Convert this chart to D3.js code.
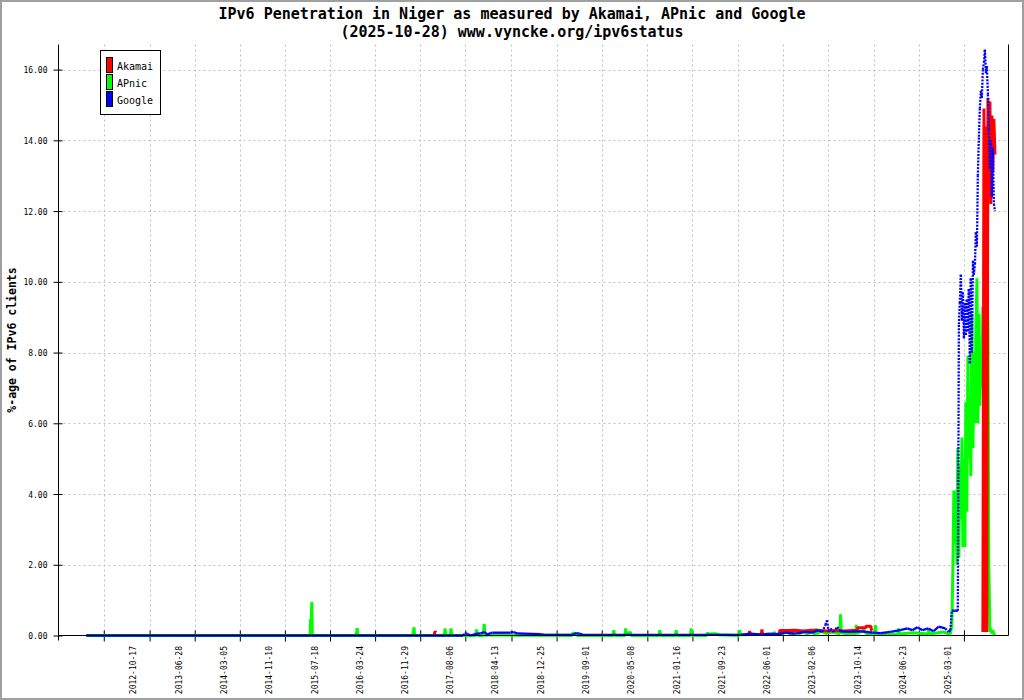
<!DOCTYPE html>
<html><head><meta charset="utf-8">
<script src="https://cdn.jsdelivr.net/npm/d3@7"></script>
<style>body{margin:0;background:#fff}svg{display:block}text{font-family:"DejaVu Sans Mono",monospace}</style>
</head><body><svg id="c" width="1024" height="700"></svg>
<script>
const titleLines = ["IPv6 Penetration in Niger as measured by Akamai, APnic and Google", "(2025-10-28) www.vyncke.org/ipv6status"];
const yTitle = "%-age of IPv6 clients";
const seriesNames = ["Akamai", "APnic", "Google"];
const seriesColors = ["#ff0000", "#00ff00", "#0000ff"];
const yTicks = [0, 2, 4, 6, 8, 10, 12, 14, 16];
const labelDates = ["2012-10-17","2013-06-28","2014-03-05","2014-11-10","2015-07-18","2016-03-24","2016-11-29","2017-08-06","2018-04-13","2018-12-25","2019-09-01","2020-05-08","2021-01-16","2021-09-23","2022-06-01","2023-02-06","2023-10-14","2024-06-23","2025-03-01"];

// Final months (shared dates)
const endDates = ["2025-02-23","2025-03-03","2025-03-09","2025-03-14","2025-03-20","2025-03-25","2025-03-31","2025-04-05","2025-04-11","2025-04-16","2025-04-22","2025-04-28","2025-05-03","2025-05-09","2025-05-14","2025-05-20","2025-05-25","2025-05-31","2025-06-05","2025-06-11","2025-06-16","2025-06-22","2025-06-28","2025-07-03","2025-07-09","2025-07-14","2025-07-20","2025-07-25","2025-07-31","2025-08-05","2025-08-11","2025-08-16","2025-08-22","2025-08-28","2025-09-02","2025-09-08","2025-09-13","2025-09-19","2025-09-24","2025-09-30","2025-10-05","2025-10-11","2025-10-16","2025-10-22","2025-10-28"];
const apnicEnd = [0.05,0.3,2.0,4.1,2.6,4.1,2.0,5.3,2.2,4.8,3.3,5.6,2.5,5.0,2.5,6.6,3.5,7.9,5.0,6.6,4.5,9.1,5.3,8.0,6.0,8.5,10.1,6.0,9.1,6.5,8.0,7.0,9.3,4.5,8.0,10.3,5.0,8.9,2.0,0.1,0.2,0.05,0.15,0.05,0.0];
const googleEnd = [0.15,0.7,0.7,0.7,0.7,0.7,0.7,0.7,8.8,9.4,10.2,8.9,9.7,8.4,9.4,8.5,9.5,8.6,9.8,7.7,10.1,8.0,10.6,10.2,10.5,11.4,11.0,13.0,14.1,14.9,15.4,15.2,16.0,16.2,16.57,15.9,16.1,15.3,14.3,13.2,14.0,12.4,13.8,12.2,12.0];
const akamaiEnd = [null,null,null,null,null,null,null,null,null,null,null,null,null,null,null,null,null,null,null,null,null,null,null,null,null,null,null,null,null,null,null,null,0.1,14.9,0.1,14.4,0.1,15.2,13.6,15.1,12.2,14.7,13.1,14.6,13.6];

// Earlier history [date, value]
const apnicEarly = [["2012-01-13",0],
 ["2015-06-07",0],["2015-06-09",0.46],["2015-06-12",0.05],["2015-06-16",0.95],["2015-06-19",0],
 ["2016-02-15",0],["2016-02-19",0.1],["2016-02-23",0.21],["2016-02-26",0],
 ["2016-12-26",0],["2016-12-30",0.12],["2017-01-03",0.23],["2017-01-06",0],
 ["2017-06-20",0],["2017-06-23",0.2],["2017-06-28",0.05],["2017-07-02",0],
 ["2017-07-23",0],["2017-07-26",0.2],["2017-07-31",0.06],["2017-08-03",0],
 ["2017-12-10",0],["2017-12-15",0.17],["2017-12-20",0.05],["2017-12-24",0],
 ["2018-01-21",0],["2018-01-24",0.15],["2018-01-27",0.33],["2018-01-30",0],
 ["2018-03-01",0.02],["2018-08-01",0.01],
 ["2019-05-28",0],["2019-06-02",0.07],["2019-06-20",0.05],["2019-06-28",0],
 ["2020-01-10",0],["2020-01-15",0.15],["2020-01-19",0],
 ["2020-03-17",0],["2020-03-21",0.2],["2020-03-25",0.03],["2020-04-16",0.1],["2020-04-20",0],
 ["2020-09-22",0],["2020-09-26",0.15],["2020-09-30",0],
 ["2020-12-22",0],["2020-12-26",0.15],["2020-12-30",0],
 ["2021-03-15",0],["2021-03-19",0.2],["2021-03-23",0],
 ["2021-06-13",0],["2021-06-17",0.08],["2021-06-21",0.04],["2021-08-01",0.05],["2021-08-20",0.02],
 ["2021-12-09",0],["2021-12-13",0.15],["2021-12-17",0.02],
 ["2022-03-01",0.03],["2022-06-19",0.03],["2022-06-23",0.1],["2022-06-27",0.03],
 ["2022-08-01",0.05],["2022-09-10",0.12],["2022-09-15",0.04],["2022-10-20",0.1],["2022-11-10",0.05],["2022-12-01",0.12],["2022-12-20",0.04],
 ["2023-01-15",0.1],["2023-02-06",0.03],["2023-02-10",0.2],["2023-02-14",0.05],["2023-03-10",0.12],["2023-04-05",0.06],["2023-05-10",0.1],
 ["2023-06-21",0.05],["2023-06-25",0.6],["2023-06-29",0.08],["2023-08-01",0.05],["2023-09-16",0.04],["2023-09-20",0.3],["2023-09-24",0.05],
 ["2023-11-01",0.15],["2023-11-15",0.05],["2023-12-31",0.04],["2024-01-04",0.29],["2024-01-08",0.04],["2024-03-01",0.06],
 ["2024-05-08",0.03],["2024-05-12",0.2],["2024-05-16",0.04],["2024-08-01",0.08],["2024-10-22",0.04],["2024-10-26",0.17],["2024-10-30",0.04],
 ["2025-01-15",0.1],["2025-02-12",0.05]];

const googleEarly = [["2012-01-13",0],["2017-10-01",0],["2017-10-10",0.06],["2017-10-25",0.05],["2017-11-11",0.0],["2017-12-18",0.05],
 ["2018-01-06",0.06],["2018-01-28",0.1],["2018-02-14",0.02],["2018-03-02",0.07],["2018-03-13",0.08],["2018-06-21",0.08],["2018-07-08",0.1],
 ["2018-07-28",0.06],["2018-12-04",0.04],["2019-01-01",0.02],["2019-06-05",0.02],["2019-06-22",0.07],["2019-07-08",0.05],["2019-07-30",0.02],
 ["2021-12-17",0.02],["2022-02-10",0.05],["2022-04-07",0.03],["2022-06-01",0.05],["2022-07-15",0.04],["2022-08-23",0.08],["2022-10-18",0.05],
 ["2022-12-12",0.1],["2023-01-20",0.08],["2023-02-22",0.15],["2023-03-16",0.1],["2023-04-02",0.3],["2023-04-11",0.43],["2023-04-19",0.12],
 ["2023-04-30",0.2],["2023-05-16",0.1],["2023-06-07",0.24],["2023-06-24",0.12],["2023-08-19",0.1],["2023-10-13",0.12],["2023-12-19",0.08],
 ["2024-02-01",0.07],["2024-03-27",0.1],["2024-05-22",0.15],["2024-06-29",0.2],["2024-07-27",0.15],["2024-08-24",0.23],["2024-09-21",0.15],
 ["2024-10-24",0.2],["2024-11-21",0.12],["2024-12-20",0.25],["2025-01-26",0.2],["2025-02-12",0.1]];

const akamaiEarly = [["2017-04-24",0],["2017-04-29",0.12],["2017-05-04",0.08],["2017-05-06",null],
 ["2022-02-02",0],["2022-02-06",0.13],["2022-02-10",0.02],["2022-02-12",null],
 ["2022-04-11",0],["2022-04-15",0.17],["2022-04-19",0.03],["2022-04-21",null],
 ["2022-07-19",0],["2022-07-23",0.14],["2022-09-01",0.14],["2022-10-15",0.15],["2022-12-01",0.13],["2023-01-15",0.15],["2023-03-01",0.14],
 ["2023-04-15",0.13],["2023-06-01",0.14],["2023-07-15",0.13],["2023-09-01",0.14],["2023-09-25",0.14],["2023-09-28",0.22],["2023-11-10",0.22],
 ["2023-11-14",0.26],["2023-12-10",0.26],["2023-12-14",0.14],["2023-12-17",0.14],["2023-12-20",null]];

const parse = d3.utcParse("%Y-%m-%d");
const build = (early, endVals) => early.map(d => [parse(d[0]), d[1]]).concat(endDates.map((d, i) => [parse(d), endVals[i]]));
const akamai = build(akamaiEarly, akamaiEnd);
const apnic = build(apnicEarly, apnicEnd);
const google = build(googleEarly, googleEnd);

const svg = d3.select("#c");
const L = 58.5, R = 1008.5, T = 44.5, B = 635.5;
const x = d3.scaleUtc().domain([parse("2011-08-12"), parse("2026-01-11")]).range([L, R]);
const y = d3.scaleLinear().domain([0, 16.71]).range([B, T]);
const labelD = labelDates.map(parse);
const gridD = labelD.concat([d3.utcDay.offset(labelD[labelD.length - 1], 250)]).map(d => d3.utcDay.offset(d, -181));

svg.append("rect").attr("x", 0).attr("y", 0).attr("width", 1024).attr("height", 700).attr("fill", "#fff");

// grid
const grid = svg.append("g").attr("stroke", "#c0c0c0").attr("stroke-width", 1).attr("stroke-dasharray", "2,3");
grid.selectAll(".h").data(yTicks.filter(v => v > 0)).join("line")
  .attr("x1", L).attr("x2", R).attr("y1", d => Math.round(y(d)) + 0.5).attr("y2", d => Math.round(y(d)) + 0.5);
grid.selectAll(".v").data(gridD).join("line")
  .attr("x1", d => Math.round(x(d)) + 0.5).attr("x2", d => Math.round(x(d)) + 0.5).attr("y1", T).attr("y2", B);

// axes
const yAxis = svg.append("g").attr("transform", `translate(${L},0)`)
  .call(d3.axisLeft(y).tickValues(yTicks).tickFormat(d3.format(".2f")).tickSize(5));
yAxis.select(".domain").remove();
yAxis.selectAll(".tick line").attr("x1", 4).attr("x2", -5).attr("stroke", "#000");
yAxis.selectAll(".tick text").attr("x", -11).attr("dy", null).attr("y", 3)
  .style("font-family", '"DejaVu Sans Mono",monospace').style("font-size", "8px").attr("fill", "#000");

const xAxis = svg.append("g").attr("transform", `translate(0,${B})`)
  .call(d3.axisBottom(x).tickValues(gridD).tickFormat("").tickSize(6));
xAxis.select(".domain").remove();
xAxis.selectAll(".tick line").attr("y1", -5).attr("y2", 6).attr("stroke", "#000");

svg.append("g").selectAll("text").data(labelD).join("text")
  .attr("transform", d => `translate(${x(d)},646) rotate(-90)`)
  .attr("text-anchor", "end").style("font-size", "8px").attr("fill", "#000")
  .text(d => d3.utcFormat("%Y-%m-%d")(d));

// series
const line = d3.line().defined(d => d[1] != null).x(d => x(d[0])).y(d => y(d[1]));
svg.append("path").datum(apnic).attr("d", line).attr("fill", "none").attr("stroke", seriesColors[1])
  .attr("stroke-width", 3).attr("stroke-linejoin", "bevel");
svg.append("path").datum(akamai).attr("d", line).attr("fill", "none").attr("stroke", seriesColors[0])
  .attr("stroke-width", 3).attr("stroke-linejoin", "bevel");
const gp = google.map(d => [x(d[0]), y(d[1])]);
const segs = d3.pairs(gp);
svg.append("g").selectAll("line").data(segs).join("line")
  .attr("x1", d => d[0][0]).attr("y1", d => d[0][1]).attr("x2", d => d[1][0]).attr("y2", d => d[1][1])
  .attr("stroke", seriesColors[2]).attr("stroke-width", 2.3)
  .attr("stroke-dasharray", d => Math.abs(d[1][1] - d[0][1]) > Math.abs(d[1][0] - d[0][0]) ? "2,1.3" : null);

// axis lines
svg.append("line").attr("x1", L).attr("x2", L).attr("y1", T).attr("y2", B + 5).attr("stroke", "#000");
svg.append("line").attr("x1", R).attr("x2", R).attr("y1", T).attr("y2", B).attr("stroke", "#000");
svg.append("line").attr("x1", L).attr("x2", R).attr("y1", B).attr("y2", B).attr("stroke", "#000");

// titles
svg.append("g").selectAll("text").data(titleLines).join("text")
  .attr("x", 512).attr("y", (d, i) => 18.5 + i * 18).attr("text-anchor", "middle")
  .style("font-size", "15px").style("font-weight", "bold").attr("fill", "#000").text(d => d);
svg.append("text").attr("transform", "translate(16,340) rotate(-90)").attr("text-anchor", "middle")
  .style("font-size", "11.5px").style("font-weight", "bold").attr("fill", "#000").text(yTitle);

// legend
const lg = svg.append("g");
lg.append("rect").attr("x", 100.5).attr("y", 50.5).attr("width", 60).attr("height", 64).attr("fill", "#fff").attr("stroke", "#000");
const items = lg.selectAll("g").data(seriesNames).join("g").attr("transform", (d, i) => `translate(0,${i * 17})`);
items.append("rect").attr("x", 106.5).attr("y", 57.5).attr("width", 6).attr("height", 15)
  .attr("fill", (d, i) => seriesColors[i]).attr("stroke", "#000");
items.append("text").attr("x", 117).attr("y", 70.3).style("font-size", "10px").attr("fill", "#000").text(d => d);

// frame
svg.append("rect").attr("x", 1).attr("y", 1).attr("width", 1022).attr("height", 698)
  .attr("fill", "none").attr("stroke", "#a0a0a0").attr("stroke-width", 2);
</script></body></html>
